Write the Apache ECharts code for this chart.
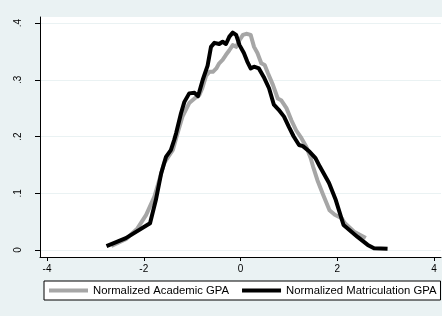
<!DOCTYPE html>
<html>
<head>
<meta charset="utf-8">
<script src="https://cdn.jsdelivr.net/npm/echarts@6/dist/echarts.min.js"></script>
<style>
  html, body { margin: 0; padding: 0; background: #eaf2f3; }
  #chart { width: 442px; height: 316px; }
</style>
</head>
<body>
<div id="chart"></div>
<script>
// 数据：密度曲线
var academicX = [-2.67, -2.37, -2.13, -1.95, -1.78, -1.68, -1.58, -1.40, -1.31, -1.20, -1.06, -0.95, -0.85, -0.79, -0.71, -0.64, -0.57, -0.50, -0.44, -0.37, -0.30, -0.23, -0.16, -0.09, -0.02, 0.05, 0.12, 0.21, 0.28, 0.35, 0.43, 0.50, 0.57, 0.67, 0.77, 0.84, 0.95, 1.05, 1.15, 1.26, 1.36, 1.45, 1.50, 1.59, 1.71, 1.84, 1.95, 2.09, 2.16, 2.35, 2.59];
var academicY = [0.007, 0.019, 0.038, 0.062, 0.094, 0.123, 0.153, 0.176, 0.203, 0.235, 0.259, 0.267, 0.273, 0.285, 0.307, 0.314, 0.314, 0.320, 0.329, 0.335, 0.344, 0.352, 0.361, 0.358, 0.370, 0.379, 0.381, 0.379, 0.358, 0.347, 0.329, 0.326, 0.311, 0.291, 0.267, 0.264, 0.250, 0.229, 0.211, 0.197, 0.182, 0.162, 0.147, 0.123, 0.097, 0.070, 0.062, 0.056, 0.047, 0.032, 0.021];

var matricX = [-2.77, -2.37, -1.87, -1.75, -1.64, -1.54, -1.44, -1.37, -1.33, -1.23, -1.16, -1.06, -0.95, -0.88, -0.85, -0.78, -0.68, -0.61, -0.54, -0.44, -0.37, -0.30, -0.23, -0.16, -0.09, -0.02, 0.07, 0.14, 0.21, 0.28, 0.38, 0.48, 0.59, 0.69, 0.79, 0.90, 1.00, 1.10, 1.21, 1.29, 1.43, 1.55, 1.64, 1.83, 1.97, 2.13, 2.42, 2.63, 2.76, 3.04];
var matricY = [0.007, 0.021, 0.047, 0.088, 0.135, 0.164, 0.176, 0.194, 0.206, 0.241, 0.261, 0.276, 0.277, 0.271, 0.279, 0.300, 0.325, 0.358, 0.365, 0.363, 0.367, 0.363, 0.376, 0.383, 0.379, 0.361, 0.347, 0.332, 0.320, 0.323, 0.320, 0.305, 0.285, 0.256, 0.247, 0.235, 0.217, 0.200, 0.185, 0.183, 0.173, 0.162, 0.147, 0.118, 0.088, 0.044, 0.023, 0.009, 0.003, 0.002];

var seriesNames = ['Normalized Academic GPA', 'Normalized Matriculation GPA'];
var xTicks = [-4, 4, 2];      // min, max, interval
var yTicks = [0, 0.4, 0.1];

function zip(xs, ys) {
    var res = [];
    for (var i = 0; i < xs.length; i++) {
        res.push([xs[i], ys[i]]);
    }
    return res;
}

var myChart = echarts.init(document.getElementById('chart'));
var font = 'Liberation Sans';

var option = {
    backgroundColor: '#eaf2f3',
    animation: false,
    // 白色绘图区
    graphic: [{
        type: 'rect',
        z: -1,
        shape: { x: 40, y: 17, width: 402, height: 240 },
        style: { fill: '#fff' },
        silent: true
    }],
    grid: [
        { left: 47, right: 8, top: 23, bottom: 66 },   // 数据
        { left: 40, right: 1, top: 17, bottom: 59 },   // 坐标轴线
        { left: 40, right: 1, top: 23, bottom: 66 }    // 网格线
    ],
    xAxis: [{
        type: 'value',
        gridIndex: 0,
        min: xTicks[0],
        max: xTicks[1],
        interval: xTicks[2],
        offset: 7,
        axisLine: { show: false, onZero: false },
        axisTick: { show: true, length: 4, lineStyle: { color: '#000' } },
        axisLabel: { color: '#000', fontSize: 10, fontFamily: font, margin: 7 },
        splitLine: { show: false }
    }, {
        type: 'value', gridIndex: 1, min: 0, max: 1,
        axisLine: { show: true, onZero: false, lineStyle: { color: '#000', width: 1 } },
        axisTick: { show: false }, axisLabel: { show: false }, splitLine: { show: false }
    }, {
        type: 'value', gridIndex: 2, min: 0, max: 1, show: false
    }],
    yAxis: [{
        type: 'value',
        gridIndex: 0,
        min: yTicks[0],
        max: yTicks[1],
        interval: yTicks[2],
        offset: 7,
        axisLine: { show: false, onZero: false },
        axisTick: { show: true, length: 5, lineStyle: { color: '#000' } },
        axisLabel: {
            color: '#000', fontSize: 10, fontFamily: font, rotate: 90, margin: 17,
            formatter: function (v) {
                if (v === 0) return '0';
                return v.toFixed(1).replace(/^0/, '');
            }
        },
        splitLine: { show: false }
    }, {
        type: 'value', gridIndex: 1, min: 0, max: 1,
        axisLine: { show: true, onZero: false, lineStyle: { color: '#000', width: 1 } },
        axisTick: { show: false }, axisLabel: { show: false }, splitLine: { show: false }
    }, {
        type: 'value', gridIndex: 2,
        min: yTicks[0], max: yTicks[1], interval: yTicks[2],
        axisLine: { show: false }, axisTick: { show: false }, axisLabel: { show: false },
        splitLine: { show: true, lineStyle: { color: '#eaf2f3', width: 1 } }
    }],
    legend: {
        left: 44,
        top: 281,
        padding: [4, 4, 4, 5],
        itemGap: 13,
        itemWidth: 39,
        itemHeight: 4,
        icon: 'rect',
        borderColor: '#000',
        borderWidth: 1,
        borderRadius: 0,
        backgroundColor: '#fff',
        textStyle: { color: '#000', fontSize: 11.3, fontFamily: font },
        data: seriesNames
    },
    series: [{
        name: seriesNames[0],
        type: 'line',
        xAxisIndex: 0, yAxisIndex: 0,
        showSymbol: false,
        symbol: 'none',
        color: '#a6a6a6',
        lineStyle: { color: '#a6a6a6', width: 4, join: 'round' },
        data: zip(academicX, academicY)
    }, {
        name: seriesNames[1],
        type: 'line',
        xAxisIndex: 0, yAxisIndex: 0,
        showSymbol: false,
        symbol: 'none',
        color: '#000',
        lineStyle: { color: '#000', width: 4, join: 'round' },
        data: zip(matricX, matricY)
    }]
};

myChart.setOption(option);
window.addEventListener('resize', function () {
    myChart.resize();
});
</script>
</body>
</html>
